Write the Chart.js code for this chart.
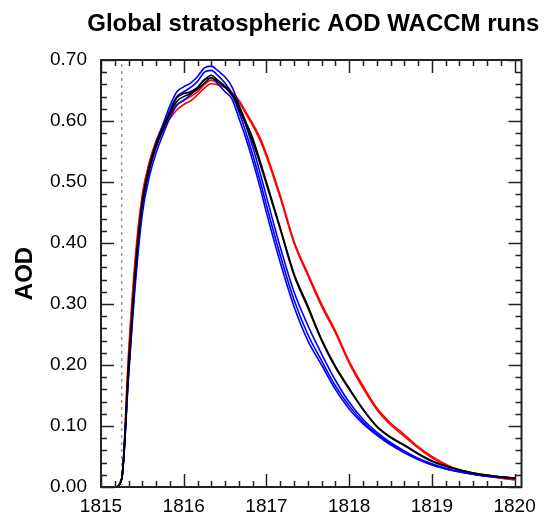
<!DOCTYPE html>
<html>
<head>
<meta charset="utf-8">
<title>Global stratospheric AOD WACCM runs</title>
<script src="https://cdn.jsdelivr.net/npm/chart.js@4.4.1/dist/chart.umd.min.js"></script>
<style>
body{margin:0;background:#fff}
</style>
</head>
<body>
<canvas id="aodChart" width="544" height="517"></canvas>
<script>

let years=[1815.0,1815.167,1815.25,1815.333,1815.417,1815.5,1815.583,1815.667,1815.75,1815.833,1815.917,
1816.0,1816.083,1816.167,1816.25,1816.333,1816.417,1816.5,1816.583,1816.667,1816.75,1816.833,1816.917,
1817.0,1817.167,1817.333,1817.5,1817.667,1817.833,1818.0,1818.167,1818.333,1818.5,1818.667,1818.833,
1819.0,1819.25,1819.5,1819.75,1820.0]

let black1=[0,0,0.013,0.20,0.36,0.47,0.525,0.563,0.59,0.615,0.638,
0.645,0.648,0.655,0.667,0.675,0.666,0.657,0.645,0.625,0.599,0.572,0.537,
0.50,0.425,0.35,0.297,0.242,0.198,0.162,0.128,0.10,0.082,0.069,0.055,
0.043,0.031,0.023,0.018,0.014]

let black2=[0,0,0.013,0.19,0.355,0.465,0.52,0.558,0.585,0.612,0.632,
0.64,0.645,0.652,0.662,0.671,0.664,0.655,0.642,0.62,0.594,0.566,0.532,
0.496,0.422,0.347,0.294,0.24,0.196,0.16,0.127,0.099,0.081,0.068,0.054,
0.042,0.031,0.023,0.018,0.014]

let red1=[0,0,0.013,0.22,0.38,0.48,0.532,0.568,0.592,0.61,0.626,
0.634,0.64,0.648,0.66,0.667,0.662,0.656,0.646,0.632,0.612,0.593,0.57,
0.542,0.474,0.40,0.347,0.296,0.253,0.203,0.162,0.127,0.102,0.083,0.064,
0.048,0.031,0.021,0.016,0.012]

let red2=[0,0,0.013,0.21,0.37,0.475,0.53,0.565,0.588,0.604,0.618,
0.627,0.633,0.643,0.654,0.661,0.659,0.655,0.647,0.634,0.615,0.596,0.574,
0.546,0.478,0.403,0.35,0.30,0.256,0.206,0.166,0.13,0.105,0.086,0.066,
0.05,0.032,0.022,0.016,0.012]

let blue1=[0,0,0.013,0.19,0.35,0.462,0.524,0.565,0.595,0.625,0.648,
0.656,0.662,0.673,0.687,0.69,0.682,0.672,0.656,0.627,0.594,0.558,0.518,
0.476,0.393,0.32,0.265,0.218,0.175,0.139,0.111,0.09,0.073,0.059,0.047,
0.038,0.028,0.021,0.017,0.015]

let blue2=[0,0,0.013,0.185,0.345,0.458,0.518,0.558,0.588,0.618,0.64,
0.648,0.655,0.665,0.68,0.683,0.674,0.662,0.645,0.615,0.582,0.545,0.505,
0.462,0.38,0.307,0.25,0.207,0.166,0.133,0.107,0.087,0.071,0.058,0.046,
0.037,0.027,0.021,0.017,0.015]

let blue3=[0,0,0.013,0.18,0.335,0.448,0.508,0.548,0.578,0.605,0.626,
0.634,0.643,0.655,0.668,0.671,0.66,0.648,0.636,0.605,0.572,0.535,0.494,
0.45,0.368,0.296,0.24,0.20,0.16,0.128,0.104,0.085,0.069,0.056,0.045,
0.036,0.027,0.021,0.017,0.015]

let eruptionYear=1815.25

let xTicks=[1815,1816,1817,1818,1819,1820]
let yTicks=[0,0.1,0.2,0.3,0.4,0.5,0.6,0.7]
let xMinorStep=1/6
let yMinorStep=0.02
let xMax=1815+61/12

function series(vals){
return vals.map((v,i)=>({x:years[i],y:v}))
}

function line(vals,color){
return {
data:series(vals),
borderColor:color,
borderWidth:1.6,
pointRadius:0,
fill:false,
cubicInterpolationMode:"monotone"
}
}

// inward tick marks on all four sides + frame + title
let frame={
id:"frame",
afterDatasetsDraw(chart){
let ctx=chart.ctx
let a=chart.chartArea
let x=chart.scales.x
let y=chart.scales.y

ctx.save()
ctx.strokeStyle="#222"
ctx.lineWidth=1.5
ctx.beginPath()

for(let v=1815;v<=xMax+1e-6;v+=xMinorStep){
let px=Math.round(x.getPixelForValue(v))+0.5
let major=xTicks.some(t=>Math.abs(t-v)<1e-6)
let len=major?13:6
ctx.moveTo(px,a.bottom);ctx.lineTo(px,a.bottom-len)
ctx.moveTo(px,a.top);ctx.lineTo(px,a.top+len)
}

for(let i=0;i<=35;i++){
let v=i*yMinorStep
let py=Math.round(y.getPixelForValue(v))+0.5
let major=i%5===0
let len=major?13:6
ctx.moveTo(a.left,py);ctx.lineTo(a.left+len,py)
ctx.moveTo(a.right,py);ctx.lineTo(a.right-len,py)
}
ctx.stroke()

ctx.lineWidth=2
ctx.strokeRect(a.left,a.top,a.right-a.left,a.bottom-a.top)

ctx.fillStyle="#000"
ctx.font="bold 24px 'Liberation Sans'"
ctx.textAlign="center"
ctx.textBaseline="middle"
ctx.fillText("Global stratospheric AOD WACCM runs",(a.left+a.right)/2+2,24)
ctx.restore()
}
}

let datasets=[
line(black1,"#000000"),
line(black2,"#000000"),
line(blue1,"#0000ff"),
line(blue2,"#0000ff"),
line(blue3,"#0000ff"),
line(red1,"#ff0000"),
line(red2,"#ff0000"),
{
data:[{x:eruptionYear,y:0},{x:eruptionYear,y:0.7}],
borderColor:"#999999",
borderWidth:1.5,
borderDash:[3,4],
pointRadius:0
}
]

let chart=new Chart(document.getElementById("aodChart"),{
type:"line",
data:{datasets:datasets},
options:{
responsive:false,
animation:false,
devicePixelRatio:1,
layout:{padding:{top:60,right:15,left:0,bottom:0}},
plugins:{legend:{display:false},tooltip:{enabled:false}},
scales:{
x:{
type:"linear",
min:1815,
max:xMax,
afterBuildTicks(s){s.ticks=xTicks.map(v=>({value:v}))},
afterFit(s){s.height=30},
grid:{display:false,drawTicks:false},
border:{display:false},
ticks:{
padding:8,
color:"#000",
font:{family:"Liberation Sans",size:19},
callback:v=>String(v)
}
},
y:{
min:0,
max:0.7,
afterBuildTicks(s){s.ticks=yTicks.map(v=>({value:v}))},
afterFit(s){s.width=101},
grid:{display:false,drawTicks:false},
border:{display:false},
title:{
display:true,
text:"AOD",
color:"#000",
font:{family:"Liberation Sans",size:24,weight:"bold"},
padding:{top:11,bottom:0}
},
ticks:{
padding:14,
color:"#000",
font:{family:"Liberation Sans",size:19},
callback:v=>v.toFixed(2)
}
}
}
},
plugins:[frame]
})

</script>
</body>
</html>
